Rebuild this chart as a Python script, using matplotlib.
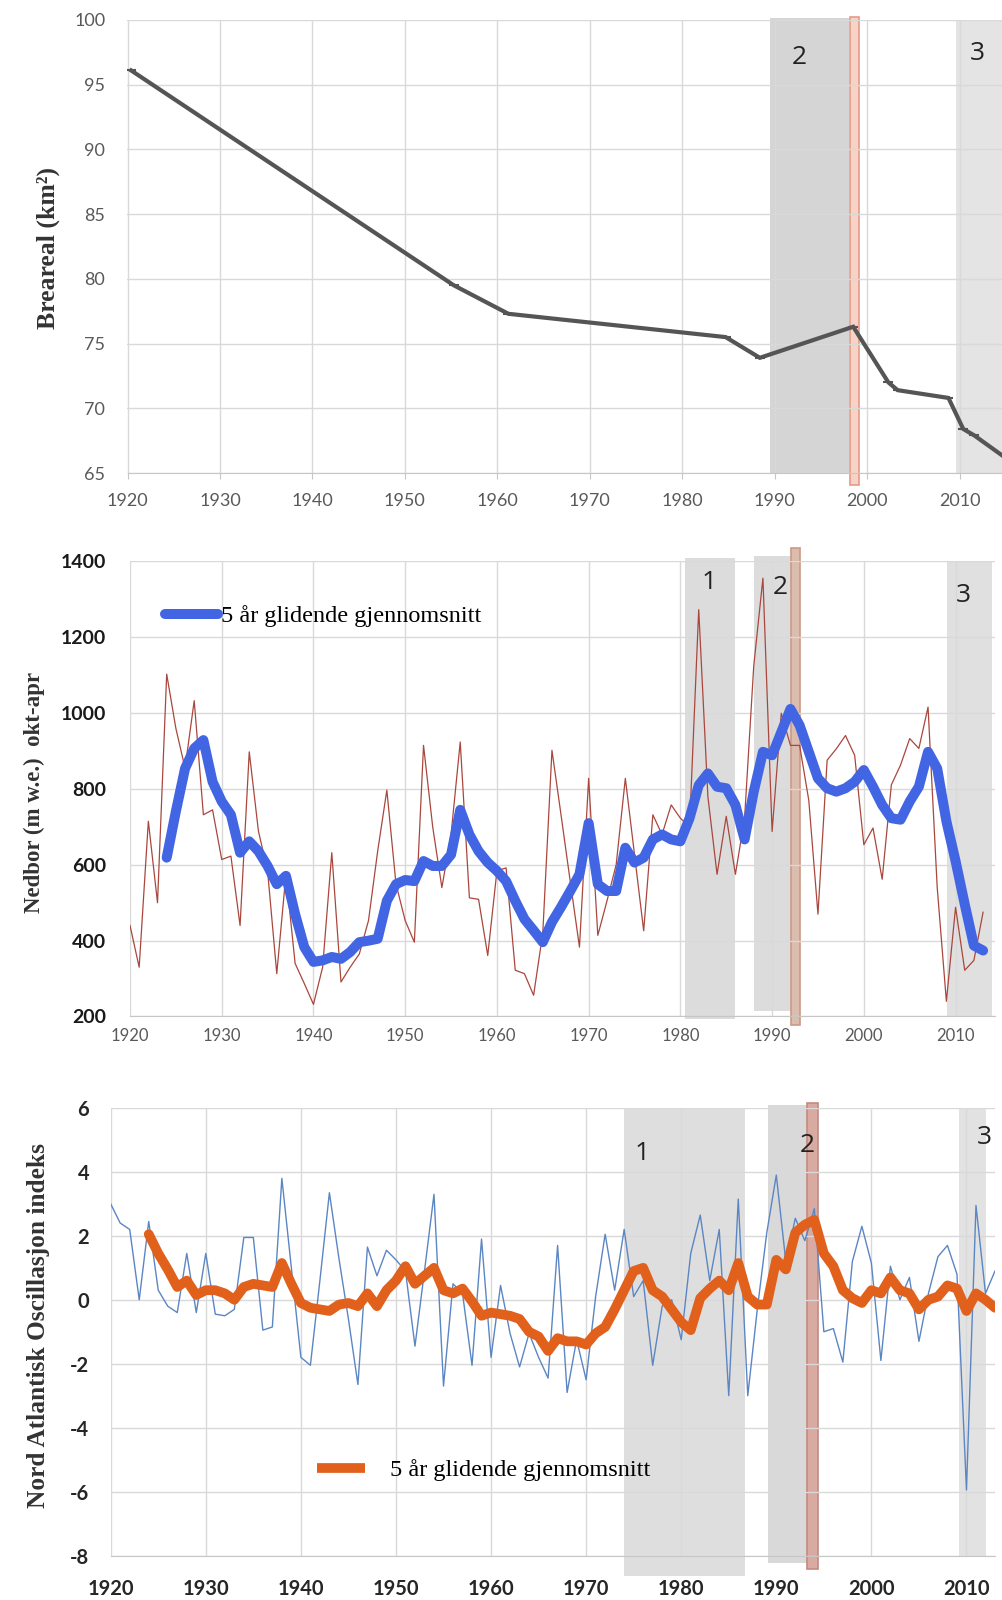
import matplotlib
matplotlib.use("Agg")
import matplotlib.pyplot as plt
from matplotlib.lines import Line2D

plt.rcParams["axes.unicode_minus"] = False

# glacier area, km2
area_years = [1920.4, 1955.3, 1961.2, 1984.7, 1988.4, 1998.5, 2002.3, 2003.3,
              2008.8, 2010.4, 2011.6, 2015.5]
area_km2 = [96.1, 79.5, 77.3, 75.5, 73.9, 76.3, 72.0, 71.4, 70.8, 68.4, 67.9, 65.9]

# winter precipitation okt-apr, yearly values 1920-2013
precip_years = list(range(1920, 2014))
precip = [
    440, 330, 715, 500, 1103, 960, 855, 1033, 732, 745,
    614, 623, 440, 898, 689, 584, 313, 575, 340, 287,
    232, 330, 632, 291, 330, 365, 453, 636, 797, 549,
    453, 396, 915, 700, 540, 680, 924, 513, 509, 361,
    584, 592, 322, 313, 256, 420, 902, 730, 555, 383,
    828, 414, 505, 600, 828, 627, 426, 732, 680, 758,
    723, 700, 1273, 780, 575, 728, 575, 723, 1125, 1356,
    688, 1000, 915, 915, 770, 470, 876, 906, 941, 889,
    653, 697, 562, 811, 863, 933, 907, 1016, 540, 240,
    488, 322, 348, 475,
]
# 5 year running mean, 1924-2013
precip_ma_years = list(range(1924, 2014))
precip_ma = [
    619, 741, 854, 907, 929, 819,
    767, 732, 632, 662, 636, 597, 549, 571, 470, 383,
    344, 348, 357, 352, 370, 396, 400, 405, 505, 549,
    560, 557, 610, 597, 597, 627, 745, 680, 636, 606,
    584, 557, 505, 457, 427, 396, 449, 489, 531, 575,
    710, 549, 531, 531, 645, 606, 619, 667, 680, 667,
    662, 723, 810, 841, 806, 802, 758, 667, 793, 898,
    889, 950, 1011, 968, 898, 828, 802, 793, 802, 819,
    850, 806, 758, 723, 719, 767, 806, 898, 854, 715,
    610, 496, 387, 374,
]

# NAO index, yearly values 1920-2013
nao_years = list(range(1920, 2014))
nao = [
    3.0, 2.4, 2.2, 0.0, 2.45, 0.3, -0.2, -0.4, 1.45, -0.4,
    1.45, -0.45, -0.5, -0.3, 1.95, 1.95, -0.95, -0.85, 3.8, 1.0,
    -1.8, -2.05, 0.6, 3.35, 1.3, -0.6, -2.65, 1.65, 0.75, 1.55,
    1.25, 0.9, -1.45, 0.9, 3.3, -2.7, 0.5, 0.2, -2.05, 1.9,
    -1.8, 0.45, -1.05, -2.1, -1.05, -1.8, -2.45, 1.7, -2.9, -1.25,
    -2.5, 0.1, 2.05, 0.3, 2.2, 0.1, 0.6, -2.05, -0.2, 0.0,
    -1.25, 1.45, 2.65, 0.6, 2.2, -3.0, 3.15, -3.0, -0.3, 2.1,
    3.9, 1.2, 2.55, 1.85, 2.85, -1.0, -0.9, -1.95, 1.2, 2.3,
    1.15, -1.9, 1.05, 0.0, 0.7, -1.3, 0.2, 1.35, 1.7, 0.8,
    -5.95, 2.95, 0.2, 0.9,
]
# 5 year running mean, 1924-2013
nao_ma_years = list(range(1924, 2014))
nao_ma = [
    2.05, 1.45, 0.95, 0.4, 0.6, 0.15,
    0.3, 0.3, 0.2, 0.0, 0.4, 0.5, 0.45, 0.4, 1.15, 0.5,
    -0.1, -0.25, -0.3, -0.35, -0.15, -0.1, -0.2, 0.2, -0.2, 0.3,
    0.6, 1.05, 0.5, 0.75, 1.0, 0.3, 0.2, 0.35, -0.05, -0.5,
    -0.4, -0.45, -0.5, -0.6, -1.0, -1.15, -1.6, -1.2, -1.3, -1.3,
    -1.4, -1.05, -0.85, -0.3, 0.3, 0.9, 1.0, 0.3, 0.1, -0.3,
    -0.7, -0.95, 0.05, 0.35, 0.6, 0.3, 1.15, 0.1, -0.15, -0.15,
    1.25, 0.95, 2.1, 2.35, 2.5, 1.45, 1.05, 0.3, 0.05, -0.1,
    0.3, 0.2, 0.7, 0.3, 0.2, -0.3, 0.0, 0.1, 0.45, 0.35,
    -0.35, 0.2, 0.0, -0.25,
]

legend_text = "5 år glidende gjennomsnitt"

W, H = 1003, 1600
fig = plt.figure(figsize=(W / 100, H / 100), dpi=100)

GRID = "#d9d9d9"
SERIF = "Liberation Serif"
SANS = "Lato"


def px_axes(left, top, right, bottom):
    return fig.add_axes([left / W, 1 - bottom / H, (right - left) / W, (bottom - top) / H])


def style(ax, xlim, ylim, yticks):
    ax.set_xlim(*xlim)
    ax.set_ylim(*ylim)
    ax.set_xticks(range(1920, 2011, 10))
    ax.set_yticks(yticks)
    ax.grid(True, color=GRID, lw=1.0)
    ax.set_axisbelow(True)
    for side in ["top", "right", "left"]:
        ax.spines[side].set_visible(False)
    ax.spines["bottom"].set_color("#c6c6c6")


def shade(ax, x0, x1, y0, y1, color):
    ax.axvspan(x0, x1, ymin=y0, ymax=y1, color=color, lw=0, zorder=0.2, clip_on=False)


def red_bar(ax, x0, x1, y0, y1, face, edge):
    ax.axvspan(x0, x1, ymin=y0, ymax=y1, facecolor=face, edgecolor=edge, lw=1.2,
               zorder=0.3, clip_on=False)


def region_number(ax, x, y, s):
    ax.text(x, y, s, transform=ax.get_xaxis_transform(), ha="center", va="center",
            fontsize=19, family="Open Sans", color="#222222")


# ---- top: glacier area
ax1 = px_axes(127.5, 20, 1003, 473)
style(ax1, (1920, 2014.7), (65, 100), range(65, 101, 5))
shade(ax1, 1989.5, 1998.0, 0.0, 1.005, "#d5d5d5")
shade(ax1, 2009.6, 2016, 0.0, 1.0, "#e4e4e4")
red_bar(ax1, 1998.2, 1999.1, -0.027, 1.007, "#f7d3c6", "#e59a88")
ax1.plot(area_years, area_km2, color="#555555", lw=3.0, marker="_", ms=7, mew=1.5,
         solid_joinstyle="miter")
region_number(ax1, 1992.7, 0.918, "2")
region_number(ax1, 2011.9, 0.927, "3")
ax1.tick_params(axis="x", length=4.5, color="#c6c6c6", pad=10, labelsize=13,
                labelcolor="#595959")
ax1.tick_params(axis="y", length=0, pad=16, labelsize=13, labelcolor="#595959")
for lab in ax1.get_xticklabels() + ax1.get_yticklabels():
    lab.set_family(SANS)
ax1.set_ylabel("Breareal (km²)", family=SERIF, fontsize=18.5, weight="bold",
               color="#333333", va="center")
ax1.yaxis.set_label_coords(-0.091, 0.497)

# ---- middle: precipitation
ax2 = px_axes(130, 561.5, 995, 1016.5)
style(ax2, (1920, 2014.3), (200, 1400), range(200, 1401, 200))
shade(ax2, 1980.5, 1986.0, -0.006, 1.008, "#dcdcdc")
shade(ax2, 1988.0, 1992.4, 0.012, 1.011, "#dcdcdc")
shade(ax2, 2009.1, 2014.0, 0.0, 1.0, "#e0e0e0")
red_bar(ax2, 1992.1, 1993.0, -0.019, 1.03, "#dcbcad", "#c99a88")
ax2.plot(precip_years, precip, color="#a9473d", lw=0.9)
ax2.plot(precip_ma_years, precip_ma, color="#4265e3", lw=7.2,
         solid_joinstyle="round", solid_capstyle="round")
region_number(ax2, 1983.1, 0.953, "1")
region_number(ax2, 1990.9, 0.942, "2")
region_number(ax2, 2010.8, 0.926, "3")
ax2.tick_params(axis="x", length=0, pad=8, labelsize=12, labelcolor="#595959")
ax2.tick_params(axis="y", length=0, pad=17, labelsize=14, labelcolor="#1a1a1a")
for lab in ax2.get_xticklabels():
    lab.set_family(SANS)
for lab in ax2.get_yticklabels():
    lab.set_family(SANS)
    lab.set_weight("bold")
ax2.set_ylabel("Nedbor (m w.e.)  okt-apr", family=SERIF, fontsize=16.5,
               weight="bold", color="#333333", va="center")
ax2.yaxis.set_label_coords(-0.11, 0.493)
ax2.legend(handles=[Line2D([], [], color="#4265e3", lw=7.2, solid_capstyle="round")],
           labels=[legend_text], loc="center left", bbox_to_anchor=(0.04, 0.880),
           frameon=False, borderpad=0, borderaxespad=0, handlelength=2.2,
           handletextpad=0.1, prop={"family": SERIF, "size": 17.5})

# ---- bottom: NAO index
ax3 = px_axes(110.7, 1108, 995, 1555.5)
style(ax3, (1920, 2013.0), (-8, 6), range(-8, 7, 2))
shade(ax3, 1974.0, 1986.7, -0.046, 1.0, "#dedede")
shade(ax3, 1989.1, 1993.3, -0.017, 1.007, "#d9d9d9")
shade(ax3, 2009.2, 2012.1, 0.0, 1.0, "#e2e2e2")
red_bar(ax3, 1993.2, 1994.4, -0.03, 1.011, "#d8aaa2", "#c48a80")
ax3.plot(nao_years, nao, color="#5b86c4", lw=1.0)
ax3.plot(nao_ma_years, nao_ma, color="#e0601c", lw=7.0,
         solid_joinstyle="round", solid_capstyle="round")
region_number(ax3, 1975.9, 0.899, "1")
region_number(ax3, 1993.3, 0.917, "2")
region_number(ax3, 2011.9, 0.933, "3")
ax3.tick_params(axis="x", length=0, pad=17, labelsize=14.5, labelcolor="#262626")
ax3.tick_params(axis="y", length=0, pad=15.5, labelsize=14.5, labelcolor="#262626")
for lab in ax3.get_xticklabels() + ax3.get_yticklabels():
    lab.set_family(SANS)
    lab.set_weight("bold")
ax3.set_ylabel("Nord Atlantisk Oscillasjon indeks", family=SERIF, fontsize=18.3,
               weight="bold", color="#333333", va="center")
ax3.yaxis.set_label_coords(-0.082, 0.515)
ax3.legend(handles=[Line2D([], [], color="#e0601c", lw=7.0, solid_capstyle="butt")],
           labels=[legend_text], loc="center left", bbox_to_anchor=(0.233, 0.191),
           frameon=False, borderpad=0, borderaxespad=0, handlelength=2.0,
           handletextpad=1.0, prop={"family": SERIF, "size": 17.5})

fig.savefig("out.png", dpi=100)
